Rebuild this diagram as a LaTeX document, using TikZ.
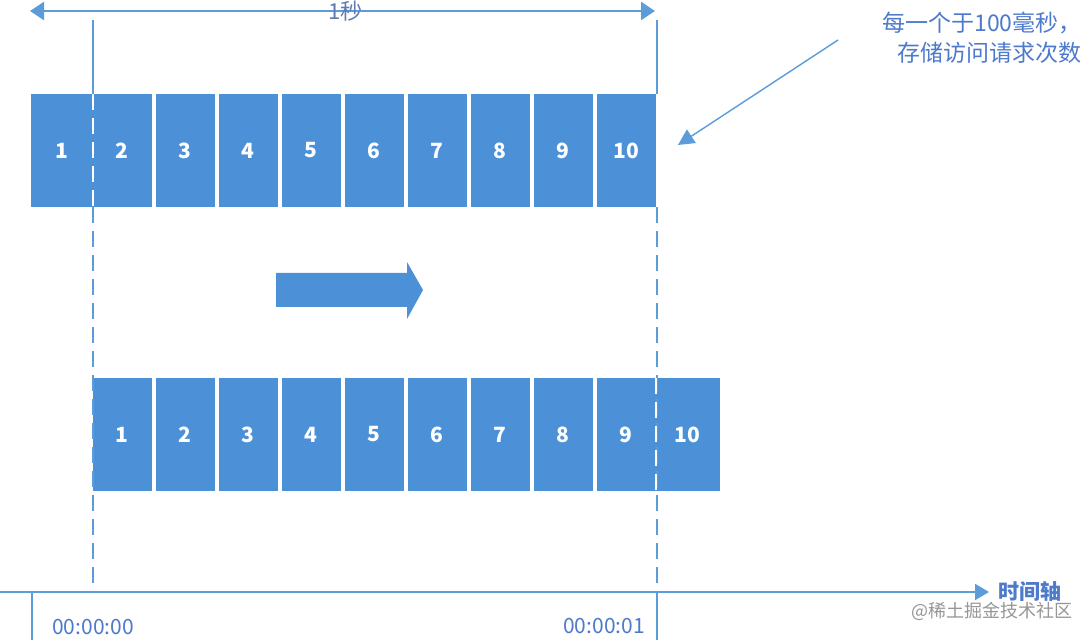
\documentclass[tikz,border=0pt]{standalone}
\usepackage{fontspec}
\setmainfont{Noto Sans CJK SC}
\definecolor{CellBlue}{RGB}{76,145,216}
\definecolor{LineBlue}{RGB}{92,156,216}
\definecolor{TextBlue}{RGB}{78,122,204}
\definecolor{MarkGray}{RGB}{150,150,150}
\usetikzlibrary{arrows.meta,positioning}

\begin{document}
\begin{tikzpicture}[x=0.5pt,y=-0.5pt,node distance=2.25pt,>={Triangle[length=7pt,width=9pt]},
  cell/.style={fill=CellBlue,minimum width=29.25pt,minimum height=56.5pt,inner sep=0pt,outer sep=0pt,
    text=white,font=\fontsize{10.5}{13}\selectfont\bfseries},
  guide/.style={draw=LineBlue,line width=0.6pt,dash pattern=on 8pt off 4pt},
  stamp/.style={text=TextBlue,font=\fontsize{10.5}{12}\selectfont}]
  \useasboundingbox[fill=white] (0,0) rectangle (1092,640);

  \node[cell,minimum width=31pt,anchor=north west] (t1) at (31,94) {1};
  \node[cell,right=0pt of t1] (t2) {2};
  \node[cell,right=of t2] (t3) {3};
  \node[cell,right=of t3] (t4) {4};
  \node[cell,right=of t4] (t5) {5};
  \node[cell,right=of t5] (t6) {6};
  \node[cell,right=of t6] (t7) {7};
  \node[cell,right=of t7] (t8) {8};
  \node[cell,right=of t8] (t9) {9};
  \node[cell,right=of t9] (t10) {10};

  \node[cell,anchor=north west] (b1) at (93,378) {1};
  \node[cell,right=of b1] (b2) {2};
  \node[cell,right=of b2] (b3) {3};
  \node[cell,right=of b3] (b4) {4};
  \node[cell,right=of b4] (b5) {5};
  \node[cell,right=of b5] (b6) {6};
  \node[cell,right=of b6] (b7) {7};
  \node[cell,right=of b7] (b8) {8};
  \node[cell,right=of b8] (b9) {9};
  \node[cell,minimum width=32.25pt,right=0pt of b9] (b10) {10};

  \coordinate (gL) at (93,20);
  \coordinate (gLend) at (93,584);
  \coordinate (gR) at (657,20);
  \coordinate (gRend) at (657,584);
  \draw[LineBlue,line width=0.6pt] (gL) -- (93,94);
  \draw[LineBlue,line width=0.6pt] (gR) -- (657,94);
  \draw[guide] (93,207) -- (gLend);
  \draw[guide] (657,207) -- (gRend);
  \draw[draw=white,line width=1pt,dash pattern=on 8pt off 4pt] (t1.north east) -- (t1.south east);
  \draw[draw=white,line width=1pt,dash pattern=on 8pt off 4pt] (b9.north east) -- (b9.south east);

  \coordinate (sL) at (30,11);
  \coordinate (sR) at (655,11);
  \draw[<->,draw=LineBlue,fill=LineBlue,line width=1pt] (sL) -- node[text=TextBlue!70!gray,font=\fontsize{11}{12}\selectfont,pos=0.505,inner sep=0pt] (sec) {1秒} (sR);

  \node[text=TextBlue,font=\fontsize{11.5}{15}\selectfont,align=right,anchor=north east,inner sep=0pt] (note) at (1082,12) {每一个于100毫秒，\\存储访问请求次数};
  \coordinate (noteTail) at (838,40);
  \coordinate (noteTip) at (678,145);
  \draw[->,>={Triangle[length=8pt,width=8pt]},draw=LineBlue,fill=LineBlue,line width=0.7pt] (noteTail) -- (noteTip);

  \fill[CellBlue] (276,273) -- (407,273) -- (407,262) -- (423,290) -- (407,319) -- (407,307) -- (276,307) -- cycle;

  \coordinate (axL) at (0,592);
  \coordinate (axR) at (989,592);
  \draw[->,>={Triangle[length=7pt,width=8pt]},draw=LineBlue,fill=LineBlue,line width=1pt] (axL) -- (axR);
  \node[text=TextBlue,font=\fontsize{10.5}{12}\selectfont\bfseries,anchor=west,inner sep=0pt] (axis) at (998,592) {时间轴};
  \draw[LineBlue,line width=0.7pt] (32,592) -- (32,640);
  \draw[LineBlue,line width=0.7pt] (657,592) -- (657,640);
  \node[stamp] (start) at (93,627) {00:00:00};
  \node[stamp] (stop) at (604,626) {00:00:01};
  \node[text=MarkGray,font=\fontsize{9}{11}\selectfont] (mark) at (992,611) {@稀土掘金技术社区};
\end{tikzpicture}
\end{document}
